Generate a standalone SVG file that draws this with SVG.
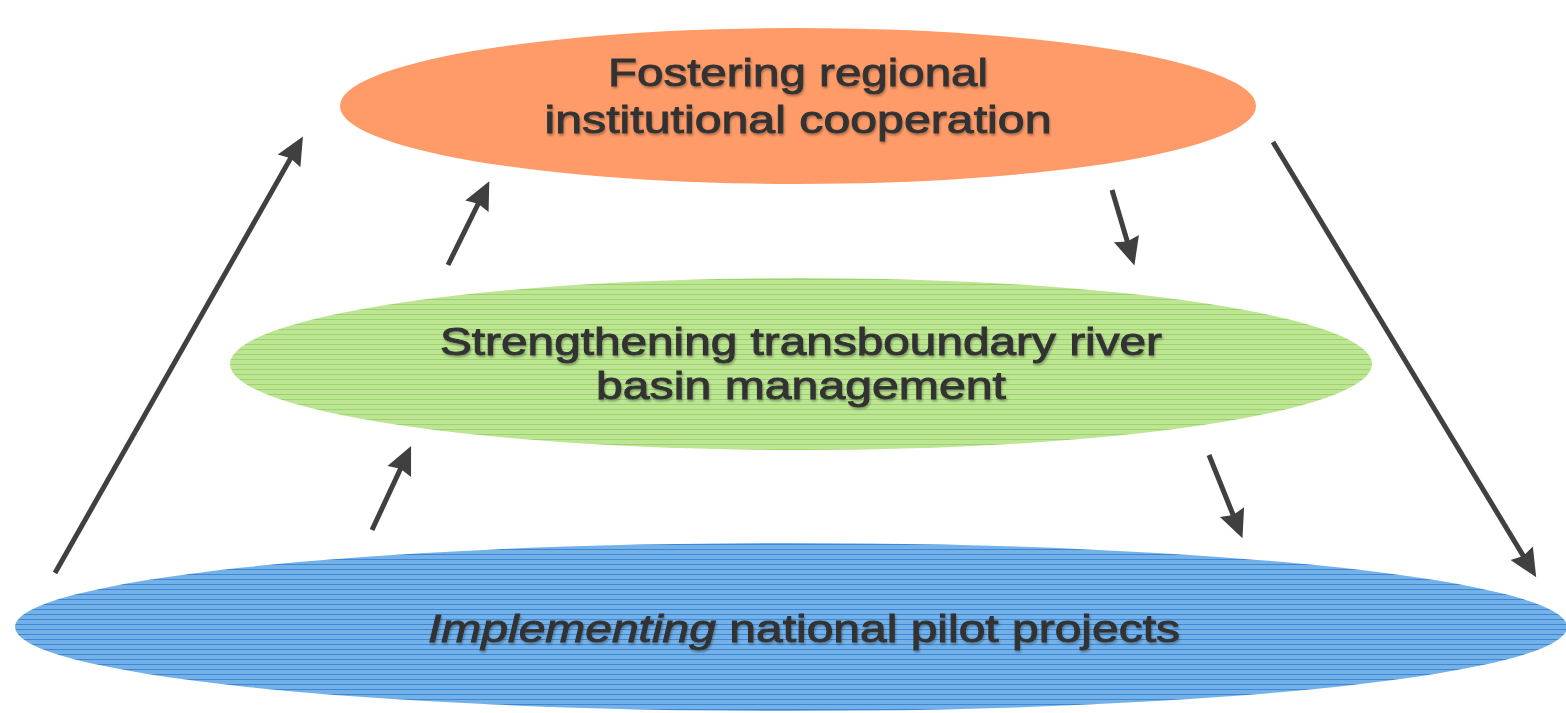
<svg xmlns="http://www.w3.org/2000/svg" width="1566" height="713" viewBox="0 0 1566 713">
<style>
.lbl{font-family:"Liberation Sans",Arial,sans-serif;font-size:38px;fill:#333;stroke:#333;stroke-width:0.9;text-anchor:middle;filter:url(#sh)}
.conn{stroke:#404040;stroke-width:5;fill:none;marker-end:url(#ah)}
</style>
<defs>
<filter id="sh" x="-5%" y="-20%" width="110%" height="150%">
<feDropShadow dx="1" dy="2" stdDeviation="0.8" flood-color="#000" flood-opacity="0.3"/>
</filter>
<pattern id="pg" width="10" height="5" patternUnits="userSpaceOnUse">
<rect width="10" height="5" fill="#BDE593"/>
<rect y="4" width="10" height="1" fill="#9AD56C"/>
</pattern>
<pattern id="pb" width="10" height="5" patternUnits="userSpaceOnUse">
<rect width="10" height="5" fill="#74B1E8"/>
<rect y="4" width="10" height="1" fill="#3C88D4"/>
</pattern>
<marker id="ah" viewBox="0 0 28 26" refX="16" refY="13" markerWidth="28" markerHeight="26" markerUnits="userSpaceOnUse" orient="auto" overflow="visible">
<path d="M0,0 L28,13 L0,26 L3,13 Z" fill="#404040" stroke="none"/>
</marker>
</defs>
<g id="node-regional">
<ellipse cx="798" cy="106" rx="458" ry="78" fill="#FF9B68"/>
<text class="lbl" x="798" y="86" textLength="380" lengthAdjust="spacingAndGlyphs">Fostering regional</text>
<text class="lbl" x="798" y="133" textLength="507" lengthAdjust="spacingAndGlyphs">institutional cooperation</text>
</g>
<g id="node-river">
<ellipse cx="801" cy="364" rx="571" ry="86" fill="url(#pg)"/>
<text class="lbl" x="801" y="355" textLength="722" lengthAdjust="spacingAndGlyphs">Strengthening transboundary river</text>
<text class="lbl" x="801" y="399" textLength="410" lengthAdjust="spacingAndGlyphs">basin management</text>
</g>
<g id="node-pilot">
<ellipse cx="791" cy="627" rx="776" ry="84" fill="url(#pb)"/>
<text class="lbl" x="804" y="642" textLength="752" lengthAdjust="spacingAndGlyphs"><tspan font-style="italic">Implementing</tspan> national pilot projects</text>
</g>
<g id="connectors">
<line class="conn" x1="55" y1="573" x2="297" y2="147"/>
<line class="conn" x1="448" y1="265" x2="484" y2="192"/>
<line class="conn" x1="372" y1="530" x2="406" y2="457"/>
<line class="conn" x1="1112" y1="190" x2="1131" y2="254"/>
<line class="conn" x1="1209" y1="455" x2="1238" y2="527"/>
<line class="conn" x1="1273" y1="142" x2="1530" y2="567"/>
</g>
</svg>
